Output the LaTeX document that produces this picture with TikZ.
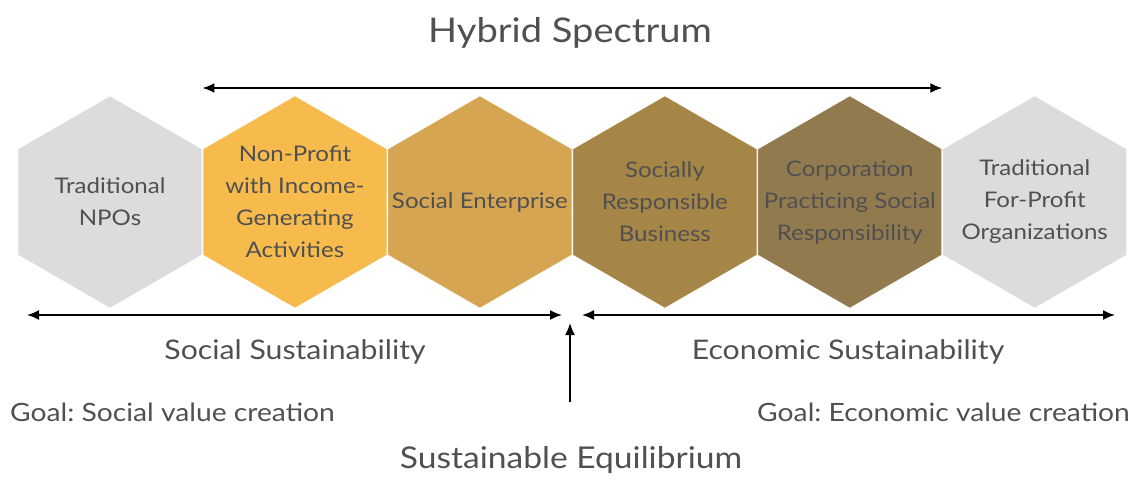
\documentclass[tikz,border=0pt]{standalone}
\usepackage{fontspec}
\setmainfont{Lato}[FakeStretch=1.12]
\usetikzlibrary{shapes.geometric, arrows.meta, positioning, calc}
\definecolor{hex_gray}{HTML}{DCDCDC}
\definecolor{hex_gold}{HTML}{F7BB4D}
\definecolor{hex_ochre}{HTML}{D6A552}
\definecolor{hex_bronze}{HTML}{A68646}
\definecolor{hex_umber}{HTML}{927A4F}
\definecolor{ink}{HTML}{505050}
\tikzset{
  hexcell/.style={regular polygon,regular polygon sides=6,regular polygon rotate=30,
    minimum size=212.6pt,inner sep=0pt,draw=white,line width=0.8pt},
  celltext/.style={align=center,text=ink,font=\fontsize{21.5}{32}\selectfont},
  heading/.style={text=ink,inner sep=0pt},
  span/.style={line width=1.8pt,{Latex[length=12pt,width=10pt]}-{Latex[length=12pt,width=10pt]},black},
  pointer/.style={line width=1.8pt,-{Latex[length=12pt,width=10pt]},black},
}
\frenchspacing

\begin{document}
\begin{tikzpicture}[x=1pt,y=-1pt]
	    \useasboundingbox (0,0) rectangle (1137,479);
	    \node[hexcell,fill=hex_gray] (npo) at (110,202) {};
	    \node[hexcell,fill=hex_gold,right=0pt of npo] (income) {};
	    \node[hexcell,fill=hex_ochre,right=0pt of income] (socent) {};
	    \node[hexcell,fill=hex_bronze,right=0pt of socent] (srb) {};
	    \node[hexcell,fill=hex_umber,right=0pt of srb] (csr) {};
	    \node[hexcell,fill=hex_gray,right=0pt of csr] (forprofit) {};
	    \node[celltext] (npo_t) at (npo) {Traditional\\NPOs};
	    \node[celltext] (income_t) at (income) {Non-Profit\\with Income-\\Generating\\Activities};
	    \node[celltext] (socent_t) at (socent) {Social Enterprise};
	    \node[celltext] (srb_t) at (srb) {Socially\\Responsible\\Business};
	    \node[celltext] (csr_t) at (csr) {Corporation\\Practicing Social\\Responsibility};
	    \node[celltext] (forprofit_t) at (forprofit) {Traditional\\For-Profit\\Organizations};
	    \node[heading,font=\fontsize{34}{40}\selectfont] (hybrid) at (570,33) {Hybrid Spectrum};
	    \node[heading,font=\fontsize{27}{30}\selectfont] (social) at (295,352) {Social Sustainability};
	    \node[heading,font=\fontsize{27}{30}\selectfont] (economic) at (848,352) {Economic Sustainability};
	    \node[heading,font=\fontsize{25.2}{28}\selectfont,anchor=west] (socgoal) at (10,412) {Goal: Social value creation};
	    \node[heading,font=\fontsize{25.2}{28}\selectfont,anchor=east] (ecogoal) at (1130,412) {Goal: Economic value creation};
	    \node[heading,font=\fontsize{30}{34}\selectfont] (equilibrium) at (571,460) {Sustainable Equilibrium};
	    \coordinate (hs_l) at ($(income.west)+(0,-114)$);
	    \coordinate (hs_r) at ($(csr.east)+(0,-114)$);
	    \coordinate (ss_l) at (27,315);
	    \coordinate (ss_r) at (562,315);
	    \coordinate (es_l) at (582,315);
	    \coordinate (es_r) at (1115,315);
	    \coordinate (eq_top) at (570,323);
	    \coordinate (eq_bot) at (570,402);
	    \draw[span] (hs_l) -- (hs_r);
	    \draw[span] (ss_l) -- (ss_r);
	    \draw[span] (es_l) -- (es_r);
	    \draw[pointer] (eq_bot) -- (eq_top);
	\end{tikzpicture}
\end{document}
